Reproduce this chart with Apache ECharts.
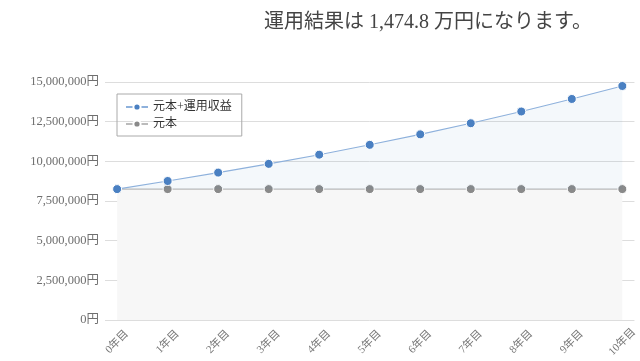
<!DOCTYPE html>
<html><head><meta charset="utf-8">
<script src="https://cdn.jsdelivr.net/npm/echarts@6/dist/echarts.min.js"></script>
<style>html,body{margin:0;padding:0;background:#fff}#c{width:640px;height:361px}</style>
</head><body><div id="c"></div>
<script>
const years = [0,1,2,3,4,5,6,7,8,9,10];
const yearLabels = ['0年目','1年目','2年目','3年目','4年目','5年目','6年目','7年目','8年目','9年目','10年目'];
const totalValues = [8250000, 8760000, 9290000, 9840000, 10420000, 11040000, 11700000, 12400000, 13140000, 13930000, 14748000];
const principalValues = [8250000, 8250000, 8250000, 8250000, 8250000, 8250000, 8250000, 8250000, 8250000, 8250000, 8250000];
const yTicks = [0, 2500000, 5000000, 7500000, 10000000, 12500000, 15000000];
const seriesNames = ['元本+運用収益', '元本'];
const titleText = '運用結果は 1,474.8 万円になります。';

const serif = '"Liberation Serif","DejaVu Serif","Noto Sans CJK JP",serif';
const chart = echarts.init(document.getElementById('c'), null, {renderer:'canvas'});
const fmt = v => v.toString().replace(/\B(?=(\d{3})+(?!\d))/g, ',') + '円';
chart.setOption({
  animation:false,
  title:{text:titleText,left:259,top:8,textStyle:{fontFamily:serif,fontSize:20,fontWeight:'normal',color:'#444'}},
  legend:{data:seriesNames,orient:'vertical',left:117,top:94,padding:[7,10,6,8],itemGap:5,
    itemWidth:22,itemHeight:9,borderColor:'#aaa',borderWidth:1,
    textStyle:{fontFamily:serif,fontSize:12,color:'#333'}},
  grid:{left:105,right:5,top:82,bottom:41,containLabel:false},
  xAxis:{type:'value',min:-0.24,max:10.24,
    axisLine:{show:false},axisTick:{show:false},splitLine:{show:false},
    axisLabel:{customValues:years,rotate:45,align:'center',verticalAlign:'middle',
      fontFamily:serif,fontSize:11,color:'#777',margin:22,
      formatter:v=>yearLabels[years.indexOf(v)] || ''}},
  yAxis:{type:'value',min:yTicks[0],max:yTicks[yTicks.length-1],interval:yTicks[1]-yTicks[0],
    axisLine:{show:false},axisTick:{show:false},
    splitLine:{lineStyle:{color:'#ddd',width:1}},
    axisLabel:{fontFamily:serif,fontSize:12.5,color:'#6f6f6f',margin:6,formatter:fmt}},
  series:[
    {name:seriesNames[0],type:'line',z:3,data:years.map((x,i)=>[x,totalValues[i]]),
      symbol:'circle',symbolSize:9,lineStyle:{color:'#8eb1dc',width:1.1},
      itemStyle:{color:'#4a80c2',borderColor:'#fff',borderWidth:1},
      areaStyle:{color:'rgba(74,128,194,0.06)',opacity:1,origin:principalValues[0]}},
    {name:seriesNames[1],type:'line',z:2,data:years.map((x,i)=>[x,principalValues[i]]),
      symbol:'circle',symbolSize:9,lineStyle:{color:'#bbb',width:1.2},
      itemStyle:{color:'#8a8a8a',borderColor:'#fff',borderWidth:1},
      areaStyle:{color:'#f7f7f7',opacity:1}}
  ]
});
</script></body></html>
